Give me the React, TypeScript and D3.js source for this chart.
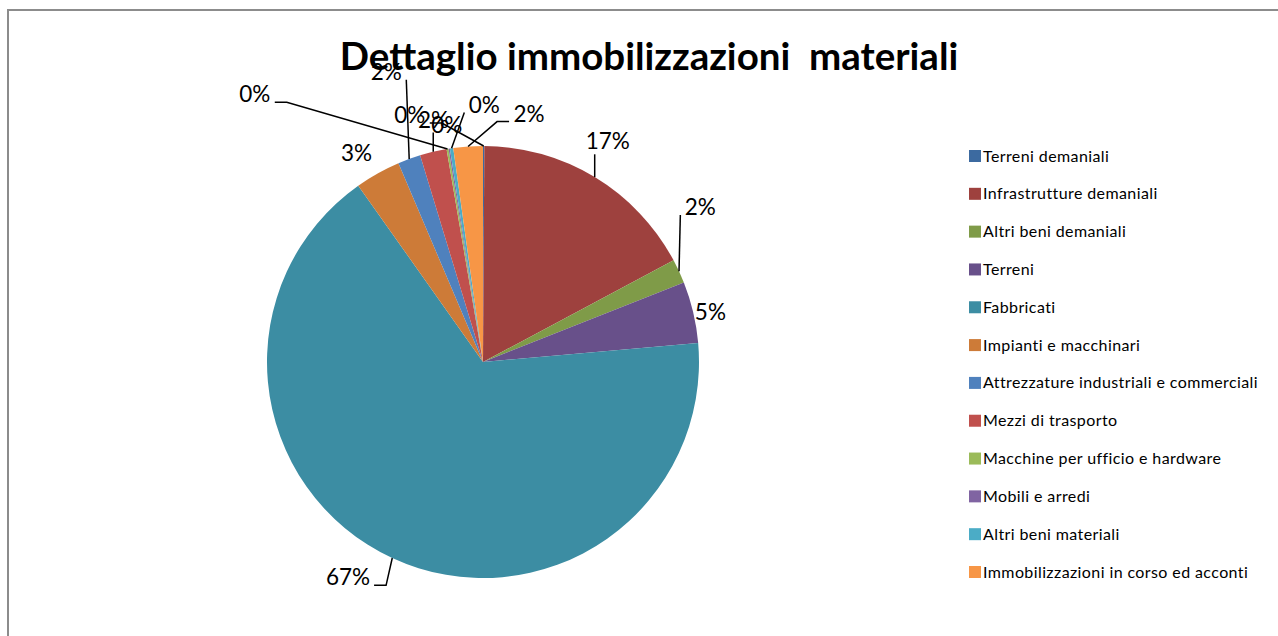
import React from "react";
import * as d3 from "d3";

const categories = [
  "Terreni demaniali",
  "Infrastrutture demaniali",
  "Altri beni demaniali",
  "Terreni",
  "Fabbricati",
  "Impianti e macchinari",
  "Attrezzature industriali e commerciali",
  "Mezzi di trasporto",
  "Macchine per ufficio e hardware",
  "Mobili e arredi",
  "Altri beni materiali",
  "Immobilizzazioni in corso ed acconti",
];

// quote percentuali
const values = [0.1, 17.1, 1.8, 4.6, 66.6, 3.4, 1.7, 2.0, 0.15, 0.1, 0.25, 2.2];

const colors = [
  "#3C6AA0", "#9E413E", "#7F9B48", "#68508A", "#3C8DA3", "#CD7B38",
  "#4F81BD", "#C0504D", "#9BBB59", "#8064A2", "#4BACC6", "#F79646",
];

// spostamento delle etichette rispetto alla posizione di default (stile Excel)
const labelNudge: [number, number][] = [
  [-74, -2], [-2, -11], [-5, -52], [-11, 6], [-32, -7], [-7, 5],
  [-13, -60], [7, -4], [-188, -26], [2, 5], [37, -15], [63, -4],
];

const W = 1278;
const H = 636;
const cx = 483;
const cy = 362;
const radius = 216;
const labelRadius = radius + 29;
const font = "Lato, 'Open Sans', sans-serif";

export default function App() {
  const total = d3.sum(values);
  const pie = d3.pie<number>().sort(null).value((d) => d);
  const arcs = pie(values);
  const arc = d3.arc<d3.PieArcDatum<number>>().innerRadius(0).outerRadius(radius);
  const fmt = d3.format(".0%");

  const legendY = d3
    .scalePoint<number>()
    .domain(d3.range(categories.length))
    .range([156, 572]);

  const labels = arcs.map((a, i) => {
    const mid = (a.startAngle + a.endAngle) / 2;
    const lx = cx + labelRadius * Math.sin(mid) + labelNudge[i][0];
    const ly = cy - labelRadius * Math.cos(mid) + labelNudge[i][1];
    const px = cx + radius * Math.sin(mid);
    const py = cy - radius * Math.cos(mid);
    const text = fmt(a.data / total);
    const w = 12 * (text.length - 1) + 20;
    const box = { l: lx - w / 2, r: lx + w / 2, t: ly - 8, b: ly + 8 };
    // distanza tra riquadro e punto sul bordo
    const gx = Math.max(box.l - px, 0, px - box.r);
    const gy = Math.max(box.t - py, 0, py - box.b);
    let path: string | null = null;
    if (Math.hypot(gx, gy) > 20) {
      if (px >= box.l && px <= box.r) {
        path = `M${px},${box.b + 5}L${px},${py}`;
      } else {
        const right = px > box.r;
        const sx = right ? box.r + 4 : box.l - 4;
        const sy = box.b;
        if (Math.abs(px - sx) > 15) {
          const ex = right ? sx + 12 : sx - 12;
          path = `M${sx},${sy}L${ex},${sy}L${px},${py}`;
        } else {
          path = `M${sx},${sy}L${px},${py}`;
        }
      }
    }
    return { lx, ly, text, path };
  });

  return (
    <svg
      width={W}
      height={H}
      style={{ position: "absolute", left: 0, top: 0, background: "#fff" }}
      fontFamily={font}
    >
      <rect x={8} y={10} width={1400} height={800} fill="#fff" stroke="#8c8c8c" strokeWidth={2} />
      <text
        x={649}
        y={70}
        textAnchor="middle"
        fontSize={38.5}
        fontWeight="bold"
        fill="#000"
        style={{ whiteSpace: "pre" }}
      >
        {"Dettaglio immobilizzazioni  materiali"}
      </text>
      <g transform={`translate(${cx},${cy})`}>
        {arcs.map((a, i) => (
          <path key={i} d={arc(a) || ""} fill={colors[i]} />
        ))}
      </g>
      <g>
        {labels.map((l, i) =>
          l.path ? <path key={i} d={l.path} fill="none" stroke="#000" strokeWidth={1.5} /> : null
        )}
      </g>
      <g>
        {labels.map((l, i) => (
          <text key={i} x={l.lx} y={l.ly + 8} textAnchor="middle" fontSize={22.5} fill="#000">
            {l.text}
          </text>
        ))}
      </g>
      <g>
        {categories.map((c, i) => (
          <g key={c} transform={`translate(969,${legendY(i)})`}>
            <rect x={0} y={-6} width={12} height={12} fill={colors[i]} />
            <text x={14} y={5.5} fontSize={16} letterSpacing={0.4} fill="#000">
              {c}
            </text>
          </g>
        ))}
      </g>
    </svg>
  );
}
